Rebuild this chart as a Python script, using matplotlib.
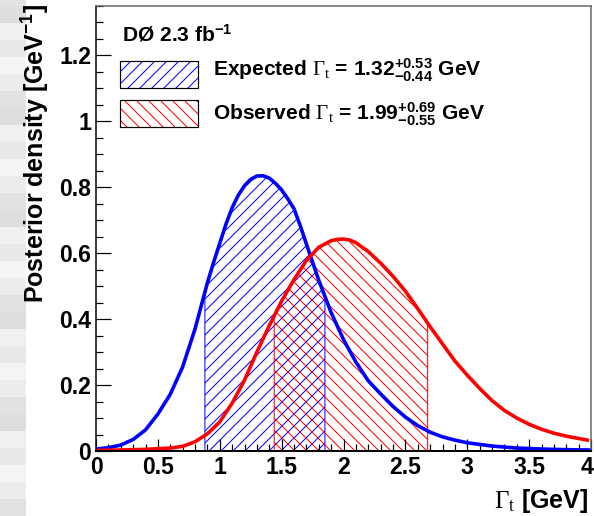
import numpy as np
import matplotlib
matplotlib.use('Agg')
import matplotlib.pyplot as plt
import matplotlib.transforms as mtransforms
from matplotlib.patches import Rectangle

# Font setup: Helvetica-like bold text, thin Times-like Gamma
plt.rcParams['font.family'] = ['Liberation Sans', 'DejaVu Sans']
plt.rcParams['mathtext.fontset'] = 'custom'
plt.rcParams['mathtext.rm'] = 'Liberation Sans:bold'
plt.rcParams['mathtext.bf'] = 'Liberation Sans:bold'
plt.rcParams['mathtext.it'] = 'Liberation Sans:bold'
plt.rcParams['mathtext.sf'] = 'Liberation Serif:weight=normal'
plt.rcParams['hatch.linewidth'] = 1.0

# Posterior densities
gamma_exp = [0.0, 0.1, 0.2, 0.3, 0.4, 0.5, 0.6, 0.7, 0.8, 0.85, 0.9, 0.95, 1.0, 1.05,
             1.1, 1.15, 1.2, 1.25, 1.3, 1.35, 1.4, 1.45, 1.5, 1.55, 1.6, 1.65, 1.7,
             1.8, 1.9, 2.0, 2.1, 2.2, 2.3, 2.4, 2.5, 2.6, 2.7, 2.8, 2.9, 3.0, 3.2,
             3.4, 3.6, 3.8, 4.0]
dens_exp = [0.006, 0.010, 0.018, 0.035, 0.064, 0.112, 0.172, 0.255, 0.370, 0.440,
            0.510, 0.572, 0.630, 0.688, 0.738, 0.776, 0.805, 0.824, 0.834, 0.835,
            0.828, 0.812, 0.792, 0.765, 0.735, 0.684, 0.628, 0.518, 0.420, 0.338,
            0.270, 0.213, 0.173, 0.135, 0.103, 0.077, 0.057, 0.043, 0.033, 0.025,
            0.015, 0.009, 0.006, 0.004, 0.003]

gamma_obs = [0.0, 0.2, 0.4, 0.6, 0.7, 0.8, 0.9, 1.0, 1.1, 1.2, 1.3, 1.4, 1.5, 1.6,
             1.7, 1.8, 1.9, 1.95, 2.0, 2.05, 2.1, 2.2, 2.3, 2.4, 2.5, 2.6, 2.7, 2.8,
             2.9, 3.0, 3.1, 3.2, 3.3, 3.4, 3.5, 3.6, 3.7, 3.8, 3.9, 3.97]
dens_obs = [0.002, 0.003, 0.005, 0.009, 0.014, 0.028, 0.052, 0.088, 0.145, 0.215,
            0.300, 0.380, 0.455, 0.520, 0.578, 0.618, 0.638, 0.642, 0.643, 0.640,
            0.632, 0.605, 0.570, 0.530, 0.485, 0.432, 0.377, 0.325, 0.273, 0.230,
            0.190, 0.153, 0.123, 0.100, 0.081, 0.066, 0.054, 0.045, 0.038, 0.033]

# Most probable values and 68% intervals
exp_val, exp_up, exp_dn = 1.32, 0.53, 0.44
obs_val, obs_up, obs_dn = 1.99, 0.69, 0.55

xticks = [0, 0.5, 1, 1.5, 2, 2.5, 3, 3.5, 4]
xtick_labels = ['0', '0.5', '1', '1.5', '2', '2.5', '3', '3.5', '4']
yticks = [0, 0.2, 0.4, 0.6, 0.8, 1.0, 1.2]
ytick_labels = ['0', '0.2', '0.4', '0.6', '0.8', '1', '1.2']

blue = '#0000ff'
red = '#ff0000'


def band(x, y, lo, hi):
    # restrict the curve to [lo, hi], adding the edge points
    x = np.asarray(x)
    y = np.asarray(y)
    inside = (x > lo) & (x < hi)
    xb = np.concatenate([[lo], x[inside], [hi]])
    yb = np.concatenate([[np.interp(lo, x, y)], y[inside], [np.interp(hi, x, y)]])
    return xb, yb


fig = plt.figure(figsize=(594 / 72, 516 / 72), dpi=72)

# faint grey blocks on the left edge (slide background)
greys = ['#e2e2e2', '#ececec', '#f4f4f4', '#e8e8e8', '#f0f0f0', '#dedede']
for k in range(31):
    fig.patches.append(Rectangle((0, k * 17 / 516), 26 / 594, 17 / 516,
                                 transform=fig.transFigure, facecolor=greys[k % 6],
                                 edgecolor='none', zorder=0))

ax = fig.add_axes([96 / 594, 65 / 516, 495 / 594, 445 / 516])

xb, yb = band(gamma_exp, dens_exp, exp_val - exp_dn, exp_val + exp_up)
ax.fill_between(xb, 0, yb, facecolor='none', edgecolor=blue, hatch='//', linewidth=1.0)
xb, yb = band(gamma_obs, dens_obs, obs_val - obs_dn, obs_val + obs_up)
ax.fill_between(xb, 0, yb, facecolor='none', edgecolor=red, hatch='\\\\', linewidth=1.0)

ax.plot(gamma_exp, dens_exp, color=blue, lw=3.6, solid_joinstyle='round')
ax.plot(gamma_obs, dens_obs, color=red, lw=3.6, solid_joinstyle='round')

ax.set_xlim(0, 4)
ax.set_ylim(0, 1.35)
ax.set_xticks(xticks)
ax.set_xticklabels(xtick_labels)
ax.set_yticks(yticks)
ax.set_yticklabels(ytick_labels)
ax.set_xticks(np.arange(0, 4.01, 0.1), minor=True)
ax.set_yticks(np.arange(0, 1.351, 0.05), minor=True)
ax.tick_params(axis='both', which='both', direction='in', labelsize=23, width=1.2)
ax.tick_params(axis='y', which='major', length=15, pad=5)
ax.tick_params(axis='y', which='minor', length=7)
ax.tick_params(axis='x', which='major', length=12, pad=5)
ax.tick_params(axis='x', which='minor', length=7)
for lab in ax.get_xticklabels() + ax.get_yticklabels():
    lab.set_fontweight('bold')
# keep the last x label inside the picture
last = ax.get_xticklabels()[-1]
last.set_transform(last.get_transform() +
                   mtransforms.ScaledTranslation(-4 / 72, 0, fig.dpi_scale_trans))

ax.spines['left'].set_linewidth(1.5)
ax.spines['bottom'].set_linewidth(2)
for s in ('top', 'right'):
    ax.spines[s].set_color('#666666')
    ax.spines[s].set_linewidth(1.5)

ax.text(0.994, -0.081, r'$\mathsf{\Gamma_t}$ [GeV]', transform=ax.transAxes,
        fontsize=25, fontweight='bold', ha='right', va='top')
fig.text(20 / 594, 1 - 4 / 516, r'Posterior density [GeV$^{-1}$]', rotation=90,
         fontsize=25, fontweight='bold', ha='left', va='top')

# Experiment label and legend
ax.text(0.053, 0.92, r'DØ 2.3 fb$^{-1}$', transform=ax.transAxes, fontsize=21,
        fontweight='bold', va='baseline')

entries = [
    (blue, '//', r'Expected $\mathsf{\Gamma_t}$ = $%.2f^{+%.2f}_{-%.2f}$ GeV' % (exp_val, exp_up, exp_dn)),
    (red, '\\\\', r'Observed $\mathsf{\Gamma_t}$ = $%.2f^{+%.2f}_{-%.2f}$ GeV' % (obs_val, obs_up, obs_dn)),
]
for i, (col, hatch, label) in enumerate(entries):
    ytop = 0.877 - i * 0.088
    ax.add_patch(Rectangle((0.049, ytop - 0.062), 0.157, 0.062, transform=ax.transAxes,
                           facecolor='none', edgecolor=col, hatch=hatch, linewidth=0))
    ax.add_patch(Rectangle((0.049, ytop - 0.062), 0.157, 0.062, transform=ax.transAxes,
                           facecolor='none', edgecolor='black', linewidth=1.2))
    ax.text(0.237, 0.843 - i * 0.099, label, transform=ax.transAxes, fontsize=21,
            fontweight='bold', va='baseline')

fig.savefig('out.png', dpi=72)
